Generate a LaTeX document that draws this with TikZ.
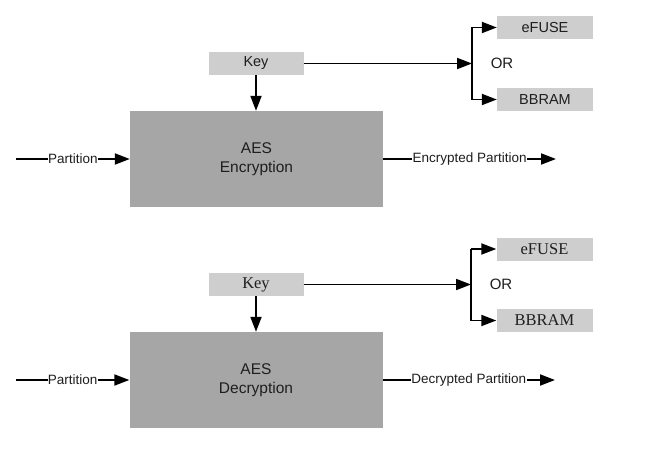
\documentclass[tikz,border=0pt]{standalone}
\usepackage{fontspec}
\setmainfont{Liberation Serif}
\setsansfont{Liberation Sans}
\usetikzlibrary{arrows.meta}
\definecolor{keygray}{RGB}{206,206,206}
\definecolor{aesgray}{RGB}{166,166,166}
\definecolor{ink}{RGB}{30,30,30}

\begin{document}
\begin{tikzpicture}[x=1pt, y=-1pt, font=\sffamily\fontsize{14.5}{18}\selectfont, text=ink,
    arr/.style={-{Triangle[length=15pt,width=11pt]}, line width=1.9pt},
    keybox/.style={fill=keygray, minimum width=95pt, minimum height=23pt, inner sep=0pt},
    aesbox/.style={fill=aesgray, minimum width=253pt, minimum height=96pt, inner sep=0pt, align=center,
      font=\sffamily\fontsize{15.5}{18.5}\selectfont},
    lbl/.style={fill=white, inner sep=0.3pt, font=\sffamily\fontsize{13.5}{15}\selectfont},
    serif/.style={font=\rmfamily\fontsize{16.5}{18}\selectfont}]
  \useasboundingbox[fill=white] (0,0) rectangle (663,460);

  \node[keybox] (keyA) at (256,63.5) {Key};
  \node[keybox, minimum width=96pt] (efuseA) at (545,27.5) {eFUSE};
  \node[keybox, minimum width=96pt] (bbramA) at (545,99.5) {BBRAM};
  \node[font=\sffamily\fontsize{15}{18}\selectfont] (orA) at (502,63) {OR};
  \node[aesbox] (aesA) at (256.5,159) {AES\\Encryption};
  \coordinate (brA) at (472,63.5);
  \coordinate (inA) at (16,159);
  \coordinate (outA) at (556,159);

  \draw[arr] (keyA) -- (brA);
  \draw[line width=1.9pt] (brA |- efuseA) -- (brA |- bbramA);
  \draw[arr] (brA |- efuseA) -- (efuseA);
  \draw[arr] (brA |- bbramA) -- (bbramA);
  \draw[arr] (keyA.south) -- (keyA.south |- aesA.north);
  \draw[arr] (inA) -- node[lbl] {Partition} (aesA);
  \draw[arr] (aesA) -- node[lbl] {Encrypted Partition} (outA);

  \node[keybox, serif] (keyB) at (256,284.5) {Key};
  \node[keybox, serif, minimum width=96pt] (efuseB) at (544.5,249) {eFUSE};
  \node[keybox, serif, minimum width=96pt] (bbramB) at (544.5,320.5) {BBRAM};
  \node[font=\sffamily\fontsize{15}{18}\selectfont] (orB) at (501,284.5) {OR};
  \node[aesbox] (aesB) at (256,380) {AES\\Decryption};
  \coordinate (brB) at (471,284.5);
  \coordinate (inB) at (16,380);
  \coordinate (outB) at (555,380);

  \draw[arr] (keyB) -- (brB);
  \draw[line width=1.9pt] (brB |- efuseB) -- (brB |- bbramB);
  \draw[arr] (brB |- efuseB) -- (efuseB);
  \draw[arr] (brB |- bbramB) -- (bbramB);
  \draw[arr] (keyB.south) -- (keyB.south |- aesB.north);
  \draw[arr] (inB) -- node[lbl] {Partition} (aesB);
  \draw[arr] (aesB) -- node[lbl] {Decrypted Partition} (outB);
\end{tikzpicture}
\end{document}
